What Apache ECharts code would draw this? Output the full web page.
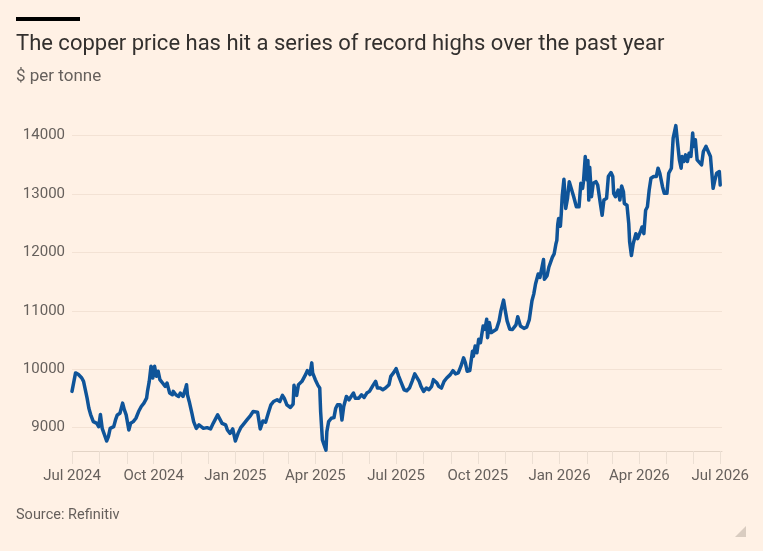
<!DOCTYPE html>
<html>
<head>
<meta charset="utf-8">
<title>Copper price</title>
<script src="https://cdn.jsdelivr.net/npm/echarts@6/dist/echarts.min.js"></script>
<style>
  html, body { margin: 0; padding: 0; background: #fff1e5; }
  #chart { width: 763px; height: 551px; }
</style>
</head>
<body>
<div id="chart"></div>
<script>
// copper price, $ per tonne
var dates = [
  '2024-07-01','2024-07-05','2024-07-08','2024-07-12','2024-07-14','2024-07-16','2024-07-18','2024-07-20','2024-07-22','2024-07-25','2024-07-29','2024-07-31',
  '2024-08-02','2024-08-04','2024-08-06','2024-08-09','2024-08-11','2024-08-13','2024-08-17','2024-08-19','2024-08-21','2024-08-24','2024-08-25','2024-08-27','2024-08-29','2024-08-31',
  '2024-09-03','2024-09-05','2024-09-08','2024-09-11','2024-09-14','2024-09-17','2024-09-20','2024-09-23','2024-09-24','2024-09-26','2024-09-28','2024-09-30',
  '2024-10-02','2024-10-04','2024-10-06','2024-10-08','2024-10-11','2024-10-14','2024-10-16','2024-10-19','2024-10-22','2024-10-23','2024-10-26','2024-10-29','2024-10-31',
  '2024-11-03','2024-11-06','2024-11-07','2024-11-08','2024-11-10','2024-11-13','2024-11-15','2024-11-18','2024-11-21','2024-11-23','2024-11-26','2024-11-30',
  '2024-12-04','2024-12-07','2024-12-09','2024-12-12','2024-12-14','2024-12-17','2024-12-21','2024-12-23','2024-12-26','2024-12-29',
  '2025-01-01','2025-01-04','2025-01-07','2025-01-10','2025-01-14','2025-01-18','2025-01-21','2025-01-23','2025-01-26','2025-01-29',
  '2025-02-01','2025-02-04','2025-02-07','2025-02-10','2025-02-13','2025-02-17','2025-02-20','2025-02-23','2025-02-25','2025-02-28',
  '2025-03-04','2025-03-07','2025-03-08','2025-03-11','2025-03-13','2025-03-17','2025-03-21','2025-03-23','2025-03-26','2025-03-28','2025-03-29',
  '2025-04-01','2025-04-04','2025-04-06','2025-04-07','2025-04-09','2025-04-11','2025-04-13','2025-04-14','2025-04-16','2025-04-19','2025-04-22','2025-04-24','2025-04-26','2025-04-29',
  '2025-05-01','2025-05-03','2025-05-06','2025-05-09','2025-05-11','2025-05-14','2025-05-16','2025-05-20','2025-05-23','2025-05-26','2025-05-29',
  '2025-06-01','2025-06-05','2025-06-08','2025-06-10','2025-06-13','2025-06-16','2025-06-19','2025-06-23','2025-06-25','2025-06-28',
  '2025-07-01','2025-07-04','2025-07-07','2025-07-10','2025-07-13','2025-07-16','2025-07-19','2025-07-22','2025-07-24','2025-07-27','2025-07-29',
  '2025-08-01','2025-08-04','2025-08-07','2025-08-10','2025-08-12','2025-08-16','2025-08-18','2025-08-21','2025-08-24','2025-08-27','2025-08-28','2025-08-31',
  '2025-09-03','2025-09-06','2025-09-09','2025-09-12','2025-09-15','2025-09-17','2025-09-19','2025-09-22','2025-09-25','2025-09-26','2025-09-28','2025-09-30',
  '2025-10-02','2025-10-04','2025-10-07','2025-10-09','2025-10-11','2025-10-12','2025-10-14','2025-10-16','2025-10-19','2025-10-22','2025-10-25','2025-10-27','2025-10-30',
  '2025-11-01','2025-11-03','2025-11-06','2025-11-09','2025-11-13','2025-11-15','2025-11-18','2025-11-22','2025-11-25','2025-11-28',
  '2025-12-01','2025-12-03','2025-12-05','2025-12-08','2025-12-10','2025-12-12','2025-12-14','2025-12-15','2025-12-18','2025-12-20','2025-12-22','2025-12-24','2025-12-26','2025-12-28','2025-12-29','2025-12-30','2025-12-31',
  '2026-01-02','2026-01-03','2026-01-04','2026-01-06','2026-01-08','2026-01-10','2026-01-12','2026-01-14','2026-01-17','2026-01-20','2026-01-23','2026-01-25','2026-01-27','2026-01-28','2026-01-30',
  '2026-02-01','2026-02-02','2026-02-03','2026-02-04','2026-02-06','2026-02-08','2026-02-11','2026-02-13','2026-02-16','2026-02-18','2026-02-20','2026-02-23','2026-02-25','2026-02-28',
  '2026-03-02','2026-03-03','2026-03-05','2026-03-08','2026-03-10','2026-03-12','2026-03-14','2026-03-15','2026-03-18','2026-03-20','2026-03-21','2026-03-23','2026-03-25','2026-03-28','2026-03-30',
  '2026-04-02','2026-04-04','2026-04-06','2026-04-08','2026-04-10','2026-04-12','2026-04-14','2026-04-17','2026-04-18','2026-04-20','2026-04-22','2026-04-24','2026-04-27','2026-04-29',
  '2026-05-02','2026-05-04','2026-05-07','2026-05-09','2026-05-12','2026-05-14','2026-05-16','2026-05-18','2026-05-19','2026-05-21','2026-05-23','2026-05-25','2026-05-27','2026-05-29','2026-05-31',
  '2026-06-01','2026-06-03','2026-06-05','2026-06-07','2026-06-10','2026-06-12','2026-06-15','2026-06-17','2026-06-20','2026-06-21','2026-06-23','2026-06-25','2026-06-27','2026-06-30','2026-07-01'
];
var prices = [
  9621, 9937, 9914, 9850, 9793, 9764, 9505, 9333, 9224, 9103, 9074, 9017,
  9224, 8988, 8902, 8771, 8845, 8988, 9017, 9132, 9218, 9247, 9218, 9420, 9305, 9218,
  8960, 9074, 9103, 9161, 9276, 9362, 9420, 9505, 9621, 9793, 10052, 9850,
  10052, 9879, 9966, 9822, 9764, 9707, 9764, 9592, 9563, 9621, 9563, 9534, 9592,
  9534, 9678, 9736, 9563, 9448, 9247, 9103, 8988, 9046, 9074, 8988, 9000,
  8978, 9074, 9103, 9218, 9190, 9074, 9046, 8960, 8902, 8978,
  8771, 8902, 9000, 9057, 9132, 9207, 9276, 9247, 9264, 8978,
  9115, 9092, 9247, 9391, 9448, 9477, 9448, 9552, 9506, 9391,
  9345, 9402, 9724, 9552, 9736, 9793, 9908, 9977, 9908, 10109, 9937,
  9822, 9724, 9678, 9276, 8788, 8702, 8615, 8931, 9103, 9161, 9172, 9333, 9391, 9391,
  9132, 9362, 9534, 9477, 9506, 9592, 9505, 9505, 9563, 9517, 9592,
  9621, 9724, 9793, 9678, 9678, 9649, 9678, 9736, 9879, 9937,
  10011, 9879, 9764, 9649, 9632, 9678, 9793, 9920, 9908, 9793, 9707,
  9621, 9678, 9649, 9707, 9822, 9764, 9707, 9678, 9793, 9850, 9822, 9908,
  9977, 9920, 9937, 10052, 10195, 10109, 9966, 9977, 10310, 10224, 10397, 10282,
  10512, 10454, 10742, 10684, 10857, 10541, 10800, 10627, 10655, 10684, 10828, 11000, 11184,
  11000, 10828, 10684, 10680, 10760, 10900, 10740, 10700, 10720, 10850,
  11172, 11287, 11460, 11632, 11574, 11600, 11880, 11540, 11603, 11747, 11776, 11920, 11977, 12150, 12207, 12480, 12582,
  12450, 12667, 12954, 13253, 12753, 12925, 13213, 13213, 12954, 12782, 12782, 13184, 13098, 13213, 13643,
  13242, 13575, 12897, 13460, 12954, 13184, 13213, 13155, 12840, 12638, 12897, 12926, 13300, 13368,
  13300, 13012, 12954, 13069, 12897, 13138, 13040, 12840, 12810, 12495, 12178, 11948, 12150, 12322, 12236,
  12351, 12437, 12322, 12724, 12782, 13069, 13270, 13300, 13328, 13300, 13443, 13357, 13126, 13012,
  13012, 13357, 13443, 13960, 14172, 13874, 13586, 13443, 13643, 13557, 13672, 13557, 13700, 13643, 14046,
  13816, 13931, 13586, 13614, 13500, 13729, 13816, 13787, 13643, 13614, 13098, 13242, 13357, 13386, 13155
];

var yTicks = [9000, 10000, 11000, 12000, 13000, 14000];
var monthTicks = [
  '2024-07-01','2024-08-01','2024-09-01','2024-10-01','2024-11-01','2024-12-01',
  '2025-01-01','2025-02-01','2025-03-01','2025-04-01','2025-05-01','2025-06-01',
  '2025-07-01','2025-08-01','2025-09-01','2025-10-01','2025-11-01','2025-12-01',
  '2026-01-01','2026-02-01','2026-03-01','2026-04-01','2026-05-01','2026-06-01','2026-07-01'
];
var labelTicks = ['2024-07-01','2024-10-01','2025-01-01','2025-04-01','2025-07-01','2025-10-01','2026-01-01','2026-04-01','2026-07-01'];
var monthNames = ['Jan','Feb','Mar','Apr','May','Jun','Jul','Aug','Sep','Oct','Nov','Dec'];

var FONT = 'Roboto';
var GREY = '#66605c';

// dates as local-midnight timestamps
function toTime(s) {
    var p = s.split('-');
    return new Date(+p[0], +p[1] - 1, +p[2]).getTime();
}

var chart = echarts.init(document.getElementById('chart'), null, {renderer: 'canvas'});

var seriesData = dates.map(function (d, i) {
    return [toTime(d), prices[i]];
});

var option = {
    backgroundColor: '#fff1e5',
    animation: false,
    grid: {
        left: 72,
        right: 41,
        top: 124,
        bottom: 100
    },
    // value axis holding timestamps, so ticks can sit on month starts
    xAxis: {
        type: 'value',
        min: toTime('2024-07-01'),
        max: toTime('2026-07-03'),
        axisLine: {lineStyle: {color: '#e3d4c6', width: 1}},
        axisTick: {
            show: true,
            length: 13,
            lineStyle: {color: '#ecdfd3'},
            customValues: monthTicks.map(toTime)
        },
        axisLabel: {
            customValues: labelTicks.map(toTime),
            margin: 18,
            color: GREY,
            fontFamily: FONT,
            fontSize: 15,
            formatter: function (v) {
                var d = new Date(v);
                return monthNames[d.getMonth()] + ' ' + d.getFullYear();
            }
        },
        splitLine: {show: false}
    },
    yAxis: {
        type: 'value',
        min: 8600,
        max: 14200,
        axisLine: {show: false},
        axisTick: {show: false, customValues: yTicks},
        axisLabel: {
            customValues: yTicks,
            margin: 7,
            color: GREY,
            fontFamily: FONT,
            fontSize: 15,
            formatter: function (v) {
                return String(v);
            }
        },
        splitLine: {lineStyle: {color: '#f3e2d4', width: 1}}
    },
    series: [{
        type: 'line',
        data: seriesData,
        showSymbol: false,
        clip: false,
        lineStyle: {color: '#0f5499', width: 3.5, join: 'round', cap: 'round'}
    }],
    graphic: [
        {type: 'rect', shape: {x: 16, y: 17, width: 64, height: 4}, style: {fill: '#000000'}},
        {type: 'text', x: 16, y: 44, style: {text: 'The copper price has hit a series of record highs over the past year',
            fill: '#33302e', fontFamily: FONT, fontSize: 22, verticalAlign: 'middle'}},
        {type: 'text', x: 16, y: 77, style: {text: '$ per tonne', fill: GREY, fontFamily: FONT, fontSize: 17, verticalAlign: 'middle'}},
        {type: 'text', x: 16, y: 515, style: {text: 'Source: Refinitiv', fill: GREY, fontFamily: FONT, fontSize: 14.5, verticalAlign: 'middle'}},
        {type: 'polygon', shape: {points: [[746, 526], [746, 537], [735, 537]]}, style: {fill: '#d9ccc0'}}
    ]
};

chart.setOption(option);
</script>
</body>
</html>
